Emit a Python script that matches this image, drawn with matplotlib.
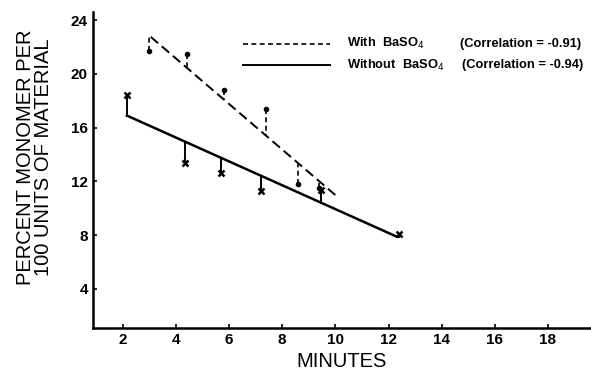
import numpy as np
import matplotlib
matplotlib.use("Agg")
import matplotlib.pyplot as plt

# data
with_x = [3.0, 4.4, 5.8, 7.4, 8.6, 9.4]
with_y = [21.7, 21.5, 18.8, 17.4, 11.8, 11.5]
with_fit_x = [3.05, 10.05]
with_fit_y = [22.75, 10.9]

without_x = [2.15, 4.35, 5.7, 7.2, 9.45, 12.4]
without_y = [18.45, 13.4, 12.6, 11.3, 11.35, 8.1]
without_fit_x = [2.15, 12.3]
without_fit_y = [16.9, 7.9]

xticks = [2, 4, 6, 8, 10, 12, 14, 16, 18]
yticks = [4, 8, 12, 16, 20, 24]

plt.rcParams['font.family'] = ['Liberation Sans', 'DejaVu Sans']

fig = plt.figure(figsize=(5.91, 3.74), dpi=100)
ax = fig.add_axes([0.157, 0.123, 0.843, 0.845])

# fitted lines
ax.plot(with_fit_x, with_fit_y, color="k", lw=1.4, linestyle=(0, (5, 2.5)))
ax.plot(without_fit_x, without_fit_y, color="k", lw=1.8)

# residuals from each point to its fit line
for x, y in zip(with_x, with_y):
    yl = np.interp(x, with_fit_x, with_fit_y)
    ax.plot([x, x], [y, yl], color="k", lw=1.2, linestyle=(0, (3, 2)))
for x, y in zip(without_x, without_y):
    yl = np.interp(x, without_fit_x, without_fit_y)
    ax.plot([x, x], [y, yl], color="k", lw=1.4)

ax.plot(with_x, with_y, "o", color="k", ms=3)
ax.plot(without_x, without_y, "x", color="k", ms=4.5, mew=1.8)

ax.set_xlim(0.87, 19.62)
ax.set_ylim(1.1, 24.6)
ax.set_xticks(xticks)
ax.set_yticks(yticks)
ax.tick_params(direction="in", length=3, width=1.2, labelsize=11)
for lab in ax.get_xticklabels() + ax.get_yticklabels():
    lab.set_fontweight("bold")
ax.spines["top"].set_visible(False)
ax.spines["right"].set_visible(False)
ax.spines["left"].set_linewidth(1.8)
ax.spines["bottom"].set_linewidth(1.8)

ax.set_xlabel("MINUTES", fontsize=14.5, labelpad=4)
ax.set_ylabel("PERCENT MONOMER PER\n100 UNITS OF MATERIAL", fontsize=14.5,
              linespacing=0.95)
ax.yaxis.set_label_coords(-0.08, 0.54)

# legend drawn by hand
ax.plot([0.301, 0.476], [0.899, 0.899], transform=ax.transAxes, color="k",
        lw=1.2, linestyle=(0, (3, 2)))
ax.plot([0.301, 0.476], [0.832, 0.832], transform=ax.transAxes, color="k",
        lw=1.4)
ax.text(0.51, 0.899, "With  BaSO$_4$", transform=ax.transAxes, fontsize=9.3,
        fontweight="bold", va="center")
ax.text(0.738, 0.899, "(Correlation = -0.91)", transform=ax.transAxes,
        fontsize=9.3, fontweight="bold", va="center")
ax.text(0.51, 0.832, "Without  BaSO$_4$", transform=ax.transAxes, fontsize=9.3,
        fontweight="bold", va="center")
ax.text(0.741, 0.832, "(Correlation = -0.94)", transform=ax.transAxes,
        fontsize=9.3, fontweight="bold", va="center")

fig.savefig("out.png", dpi=100)
